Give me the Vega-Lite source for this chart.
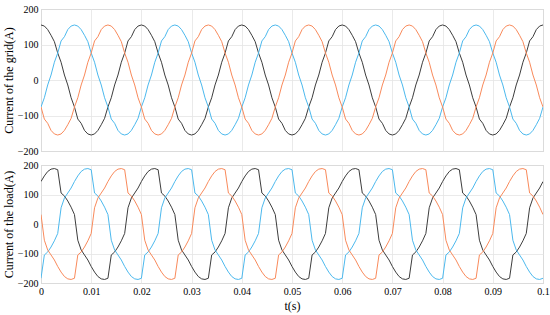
{
"$schema": "https://vega.github.io/schema/vega-lite/v6.json",
"padding": {"left": 1, "top": 3, "right": 2, "bottom": 1},
"autosize": {"type": "pad"},
"spacing": 14,
"bounds": "flush",
"config": {
  "font": "Liberation Serif",
  "view": {"stroke": "#b5b5b5", "strokeWidth": 1},
  "style": {"guide-label": {"font": "Liberation Serif"}, "guide-title": {"font": "Liberation Serif"}},
  "axis": {"labelFont": "Liberation Serif", "titleFont": "Liberation Serif", "labelFontSize": 10, "titleFontSize": 12, "titleFontWeight": "normal", "labelColor": "#000", "titleColor": "#000", "domain": false, "ticks": false, "gridColor": "#e4e4e4", "gridWidth": 0.8, "labelFlush": false}
},
"data": {"values": [
{"t":0,"a":155,"b":-76,"c":-76,"d":144,"e":-184,"f":32},
{"t":0.000667,"a":152,"b":-50,"c":-110,"d":163,"e":-105,"f":-55},
{"t":0.001333,"a":142,"b":-14,"c":-122,"d":178,"e":-95,"f":-88},
{"t":0.002,"a":126,"b":14,"c":-142,"d":186,"e":-78,"f":-105},
{"t":0.002667,"a":108,"b":50,"c":-152,"d":188,"e":-57,"f":-122},
{"t":0.003333,"a":76,"b":76,"c":-155,"d":184,"e":-32,"f":-144},
{"t":0.004,"a":50,"b":110,"c":-152,"d":105,"e":55,"f":-163},
{"t":0.004667,"a":14,"b":122,"c":-142,"d":95,"e":88,"f":-178},
{"t":0.005333,"a":-14,"b":142,"c":-126,"d":78,"e":105,"f":-186},
{"t":0.006,"a":-50,"b":152,"c":-108,"d":57,"e":122,"f":-188},
{"t":0.006667,"a":-76,"b":155,"c":-76,"d":32,"e":144,"f":-184},
{"t":0.007333,"a":-110,"b":152,"c":-50,"d":-55,"e":163,"f":-105},
{"t":0.008,"a":-122,"b":142,"c":-14,"d":-88,"e":178,"f":-95},
{"t":0.008667,"a":-142,"b":126,"c":14,"d":-105,"e":186,"f":-78},
{"t":0.009333,"a":-152,"b":108,"c":50,"d":-122,"e":188,"f":-57},
{"t":0.01,"a":-155,"b":76,"c":76,"d":-144,"e":184,"f":-32},
{"t":0.010667,"a":-152,"b":50,"c":110,"d":-163,"e":105,"f":55},
{"t":0.011333,"a":-142,"b":14,"c":122,"d":-178,"e":95,"f":88},
{"t":0.012,"a":-126,"b":-14,"c":142,"d":-186,"e":78,"f":105},
{"t":0.012667,"a":-108,"b":-50,"c":152,"d":-188,"e":57,"f":122},
{"t":0.013333,"a":-76,"b":-76,"c":155,"d":-184,"e":32,"f":144},
{"t":0.014,"a":-50,"b":-110,"c":152,"d":-105,"e":-55,"f":163},
{"t":0.014667,"a":-14,"b":-122,"c":142,"d":-95,"e":-88,"f":178},
{"t":0.015333,"a":14,"b":-142,"c":126,"d":-78,"e":-105,"f":186},
{"t":0.016,"a":50,"b":-152,"c":108,"d":-57,"e":-122,"f":188},
{"t":0.016667,"a":76,"b":-155,"c":76,"d":-32,"e":-144,"f":184},
{"t":0.017333,"a":110,"b":-152,"c":50,"d":55,"e":-163,"f":105},
{"t":0.018,"a":122,"b":-142,"c":14,"d":88,"e":-178,"f":95},
{"t":0.018667,"a":142,"b":-126,"c":-14,"d":105,"e":-186,"f":78},
{"t":0.019333,"a":152,"b":-108,"c":-50,"d":122,"e":-188,"f":57},
{"t":0.02,"a":155,"b":-76,"c":-76,"d":144,"e":-184,"f":32},
{"t":0.020667,"a":152,"b":-50,"c":-110,"d":163,"e":-105,"f":-55},
{"t":0.021333,"a":142,"b":-14,"c":-122,"d":178,"e":-95,"f":-88},
{"t":0.022,"a":126,"b":14,"c":-142,"d":186,"e":-78,"f":-105},
{"t":0.022667,"a":108,"b":50,"c":-152,"d":188,"e":-57,"f":-122},
{"t":0.023333,"a":76,"b":76,"c":-155,"d":184,"e":-32,"f":-144},
{"t":0.024,"a":50,"b":110,"c":-152,"d":105,"e":55,"f":-163},
{"t":0.024667,"a":14,"b":122,"c":-142,"d":95,"e":88,"f":-178},
{"t":0.025333,"a":-14,"b":142,"c":-126,"d":78,"e":105,"f":-186},
{"t":0.026,"a":-50,"b":152,"c":-108,"d":57,"e":122,"f":-188},
{"t":0.026667,"a":-76,"b":155,"c":-76,"d":32,"e":144,"f":-184},
{"t":0.027333,"a":-110,"b":152,"c":-50,"d":-55,"e":163,"f":-105},
{"t":0.028,"a":-122,"b":142,"c":-14,"d":-88,"e":178,"f":-95},
{"t":0.028667,"a":-142,"b":126,"c":14,"d":-105,"e":186,"f":-78},
{"t":0.029333,"a":-152,"b":108,"c":50,"d":-122,"e":188,"f":-57},
{"t":0.03,"a":-155,"b":76,"c":76,"d":-144,"e":184,"f":-32},
{"t":0.030667,"a":-152,"b":50,"c":110,"d":-163,"e":105,"f":55},
{"t":0.031333,"a":-142,"b":14,"c":122,"d":-178,"e":95,"f":88},
{"t":0.032,"a":-126,"b":-14,"c":142,"d":-186,"e":78,"f":105},
{"t":0.032667,"a":-108,"b":-50,"c":152,"d":-188,"e":57,"f":122},
{"t":0.033333,"a":-76,"b":-76,"c":155,"d":-184,"e":32,"f":144},
{"t":0.034,"a":-50,"b":-110,"c":152,"d":-105,"e":-55,"f":163},
{"t":0.034667,"a":-14,"b":-122,"c":142,"d":-95,"e":-88,"f":178},
{"t":0.035333,"a":14,"b":-142,"c":126,"d":-78,"e":-105,"f":186},
{"t":0.036,"a":50,"b":-152,"c":108,"d":-57,"e":-122,"f":188},
{"t":0.036667,"a":76,"b":-155,"c":76,"d":-32,"e":-144,"f":184},
{"t":0.037333,"a":110,"b":-152,"c":50,"d":55,"e":-163,"f":105},
{"t":0.038,"a":122,"b":-142,"c":14,"d":88,"e":-178,"f":95},
{"t":0.038667,"a":142,"b":-126,"c":-14,"d":105,"e":-186,"f":78},
{"t":0.039333,"a":152,"b":-108,"c":-50,"d":122,"e":-188,"f":57},
{"t":0.04,"a":155,"b":-76,"c":-76,"d":144,"e":-184,"f":32},
{"t":0.040667,"a":152,"b":-50,"c":-110,"d":163,"e":-105,"f":-55},
{"t":0.041333,"a":142,"b":-14,"c":-122,"d":178,"e":-95,"f":-88},
{"t":0.042,"a":126,"b":14,"c":-142,"d":186,"e":-78,"f":-105},
{"t":0.042667,"a":108,"b":50,"c":-152,"d":188,"e":-57,"f":-122},
{"t":0.043333,"a":76,"b":76,"c":-155,"d":184,"e":-32,"f":-144},
{"t":0.044,"a":50,"b":110,"c":-152,"d":105,"e":55,"f":-163},
{"t":0.044667,"a":14,"b":122,"c":-142,"d":95,"e":88,"f":-178},
{"t":0.045333,"a":-14,"b":142,"c":-126,"d":78,"e":105,"f":-186},
{"t":0.046,"a":-50,"b":152,"c":-108,"d":57,"e":122,"f":-188},
{"t":0.046667,"a":-76,"b":155,"c":-76,"d":32,"e":144,"f":-184},
{"t":0.047333,"a":-110,"b":152,"c":-50,"d":-55,"e":163,"f":-105},
{"t":0.048,"a":-122,"b":142,"c":-14,"d":-88,"e":178,"f":-95},
{"t":0.048667,"a":-142,"b":126,"c":14,"d":-105,"e":186,"f":-78},
{"t":0.049333,"a":-152,"b":108,"c":50,"d":-122,"e":188,"f":-57},
{"t":0.05,"a":-155,"b":76,"c":76,"d":-144,"e":184,"f":-32},
{"t":0.050667,"a":-152,"b":50,"c":110,"d":-163,"e":105,"f":55},
{"t":0.051333,"a":-142,"b":14,"c":122,"d":-178,"e":95,"f":88},
{"t":0.052,"a":-126,"b":-14,"c":142,"d":-186,"e":78,"f":105},
{"t":0.052667,"a":-108,"b":-50,"c":152,"d":-188,"e":57,"f":122},
{"t":0.053333,"a":-76,"b":-76,"c":155,"d":-184,"e":32,"f":144},
{"t":0.054,"a":-50,"b":-110,"c":152,"d":-105,"e":-55,"f":163},
{"t":0.054667,"a":-14,"b":-122,"c":142,"d":-95,"e":-88,"f":178},
{"t":0.055333,"a":14,"b":-142,"c":126,"d":-78,"e":-105,"f":186},
{"t":0.056,"a":50,"b":-152,"c":108,"d":-57,"e":-122,"f":188},
{"t":0.056667,"a":76,"b":-155,"c":76,"d":-32,"e":-144,"f":184},
{"t":0.057333,"a":110,"b":-152,"c":50,"d":55,"e":-163,"f":105},
{"t":0.058,"a":122,"b":-142,"c":14,"d":88,"e":-178,"f":95},
{"t":0.058667,"a":142,"b":-126,"c":-14,"d":105,"e":-186,"f":78},
{"t":0.059333,"a":152,"b":-108,"c":-50,"d":122,"e":-188,"f":57},
{"t":0.06,"a":155,"b":-76,"c":-76,"d":144,"e":-184,"f":32},
{"t":0.060667,"a":152,"b":-50,"c":-110,"d":163,"e":-105,"f":-55},
{"t":0.061333,"a":142,"b":-14,"c":-122,"d":178,"e":-95,"f":-88},
{"t":0.062,"a":126,"b":14,"c":-142,"d":186,"e":-78,"f":-105},
{"t":0.062667,"a":108,"b":50,"c":-152,"d":188,"e":-57,"f":-122},
{"t":0.063333,"a":76,"b":76,"c":-155,"d":184,"e":-32,"f":-144},
{"t":0.064,"a":50,"b":110,"c":-152,"d":105,"e":55,"f":-163},
{"t":0.064667,"a":14,"b":122,"c":-142,"d":95,"e":88,"f":-178},
{"t":0.065333,"a":-14,"b":142,"c":-126,"d":78,"e":105,"f":-186},
{"t":0.066,"a":-50,"b":152,"c":-108,"d":57,"e":122,"f":-188},
{"t":0.066667,"a":-76,"b":155,"c":-76,"d":32,"e":144,"f":-184},
{"t":0.067333,"a":-110,"b":152,"c":-50,"d":-55,"e":163,"f":-105},
{"t":0.068,"a":-122,"b":142,"c":-14,"d":-88,"e":178,"f":-95},
{"t":0.068667,"a":-142,"b":126,"c":14,"d":-105,"e":186,"f":-78},
{"t":0.069333,"a":-152,"b":108,"c":50,"d":-122,"e":188,"f":-57},
{"t":0.07,"a":-155,"b":76,"c":76,"d":-144,"e":184,"f":-32},
{"t":0.070667,"a":-152,"b":50,"c":110,"d":-163,"e":105,"f":55},
{"t":0.071333,"a":-142,"b":14,"c":122,"d":-178,"e":95,"f":88},
{"t":0.072,"a":-126,"b":-14,"c":142,"d":-186,"e":78,"f":105},
{"t":0.072667,"a":-108,"b":-50,"c":152,"d":-188,"e":57,"f":122},
{"t":0.073333,"a":-76,"b":-76,"c":155,"d":-184,"e":32,"f":144},
{"t":0.074,"a":-50,"b":-110,"c":152,"d":-105,"e":-55,"f":163},
{"t":0.074667,"a":-14,"b":-122,"c":142,"d":-95,"e":-88,"f":178},
{"t":0.075333,"a":14,"b":-142,"c":126,"d":-78,"e":-105,"f":186},
{"t":0.076,"a":50,"b":-152,"c":108,"d":-57,"e":-122,"f":188},
{"t":0.076667,"a":76,"b":-155,"c":76,"d":-32,"e":-144,"f":184},
{"t":0.077333,"a":110,"b":-152,"c":50,"d":55,"e":-163,"f":105},
{"t":0.078,"a":122,"b":-142,"c":14,"d":88,"e":-178,"f":95},
{"t":0.078667,"a":142,"b":-126,"c":-14,"d":105,"e":-186,"f":78},
{"t":0.079333,"a":152,"b":-108,"c":-50,"d":122,"e":-188,"f":57},
{"t":0.08,"a":155,"b":-76,"c":-76,"d":144,"e":-184,"f":32},
{"t":0.080667,"a":152,"b":-50,"c":-110,"d":163,"e":-105,"f":-55},
{"t":0.081333,"a":142,"b":-14,"c":-122,"d":178,"e":-95,"f":-88},
{"t":0.082,"a":126,"b":14,"c":-142,"d":186,"e":-78,"f":-105},
{"t":0.082667,"a":108,"b":50,"c":-152,"d":188,"e":-57,"f":-122},
{"t":0.083333,"a":76,"b":76,"c":-155,"d":184,"e":-32,"f":-144},
{"t":0.084,"a":50,"b":110,"c":-152,"d":105,"e":55,"f":-163},
{"t":0.084667,"a":14,"b":122,"c":-142,"d":95,"e":88,"f":-178},
{"t":0.085333,"a":-14,"b":142,"c":-126,"d":78,"e":105,"f":-186},
{"t":0.086,"a":-50,"b":152,"c":-108,"d":57,"e":122,"f":-188},
{"t":0.086667,"a":-76,"b":155,"c":-76,"d":32,"e":144,"f":-184},
{"t":0.087333,"a":-110,"b":152,"c":-50,"d":-55,"e":163,"f":-105},
{"t":0.088,"a":-122,"b":142,"c":-14,"d":-88,"e":178,"f":-95},
{"t":0.088667,"a":-142,"b":126,"c":14,"d":-105,"e":186,"f":-78},
{"t":0.089333,"a":-152,"b":108,"c":50,"d":-122,"e":188,"f":-57},
{"t":0.09,"a":-155,"b":76,"c":76,"d":-144,"e":184,"f":-32},
{"t":0.090667,"a":-152,"b":50,"c":110,"d":-163,"e":105,"f":55},
{"t":0.091333,"a":-142,"b":14,"c":122,"d":-178,"e":95,"f":88},
{"t":0.092,"a":-126,"b":-14,"c":142,"d":-186,"e":78,"f":105},
{"t":0.092667,"a":-108,"b":-50,"c":152,"d":-188,"e":57,"f":122},
{"t":0.093333,"a":-76,"b":-76,"c":155,"d":-184,"e":32,"f":144},
{"t":0.094,"a":-50,"b":-110,"c":152,"d":-105,"e":-55,"f":163},
{"t":0.094667,"a":-14,"b":-122,"c":142,"d":-95,"e":-88,"f":178},
{"t":0.095333,"a":14,"b":-142,"c":126,"d":-78,"e":-105,"f":186},
{"t":0.096,"a":50,"b":-152,"c":108,"d":-57,"e":-122,"f":188},
{"t":0.096667,"a":76,"b":-155,"c":76,"d":-32,"e":-144,"f":184},
{"t":0.097333,"a":110,"b":-152,"c":50,"d":55,"e":-163,"f":105},
{"t":0.098,"a":122,"b":-142,"c":14,"d":88,"e":-178,"f":95},
{"t":0.098667,"a":142,"b":-126,"c":-14,"d":105,"e":-186,"f":78},
{"t":0.099333,"a":152,"b":-108,"c":-50,"d":122,"e":-188,"f":57},
{"t":0.1,"a":155,"b":-76,"c":-76,"d":144,"e":-184,"f":32}
]},
"vconcat": [
  {
    "width": 502, "height": 142,
    "transform": [{"fold": ["a", "b", "c"], "as": ["k", "v"]}],
    "mark": {"type": "line", "strokeWidth": 1, "clip": true},
    "encoding": {
      "x": {"field": "t", "type": "quantitative", "scale": {"domain": [0, 0.1], "nice": false},
            "axis": {"values": [0, 0.01, 0.02, 0.03, 0.04, 0.05, 0.06, 0.07, 0.08, 0.09, 0.1], "labels": false, "title": null}},
      "y": {"field": "v", "type": "quantitative", "scale": {"domain": [-200, 200], "nice": false},
            "axis": {"values": [-200, -100, 0, 100, 200], "title": "Current of the grid(A)", "labelFont": "Liberation Serif", "titleFont": "Liberation Serif", "labelPadding": 3, "titlePadding": 2}},
      "color": {"field": "k", "type": "nominal", "scale": {"domain": ["a", "b", "c"], "range": ["#3d3d3d", "#4cb9ee", "#f98a5b"]}, "legend": null}
    }
  },
  {
    "width": 502, "height": 118,
    "transform": [{"fold": ["d", "e", "f"], "as": ["k", "v"]}],
    "mark": {"type": "line", "strokeWidth": 1, "clip": true},
    "encoding": {
      "x": {"field": "t", "type": "quantitative", "scale": {"domain": [0, 0.1], "nice": false},
            "axis": {"values": [0, 0.01, 0.02, 0.03, 0.04, 0.05, 0.06, 0.07, 0.08, 0.09, 0.1], "format": ".2~f", "title": "t(s)", "labelFont": "Liberation Serif", "titleFont": "Liberation Serif", "labelPadding": 3, "titlePadding": 4}},
      "y": {"field": "v", "type": "quantitative", "scale": {"domain": [-200, 200], "nice": false},
            "axis": {"values": [-200, -100, 0, 100, 200], "title": "Current of the load(A)", "labelFont": "Liberation Serif", "titleFont": "Liberation Serif", "labelPadding": 3, "titlePadding": 2}},
      "color": {"field": "k", "type": "nominal", "scale": {"domain": ["d", "e", "f"], "range": ["#3d3d3d", "#4cb9ee", "#f98a5b"]}, "legend": null}
    }
  }
]
}
